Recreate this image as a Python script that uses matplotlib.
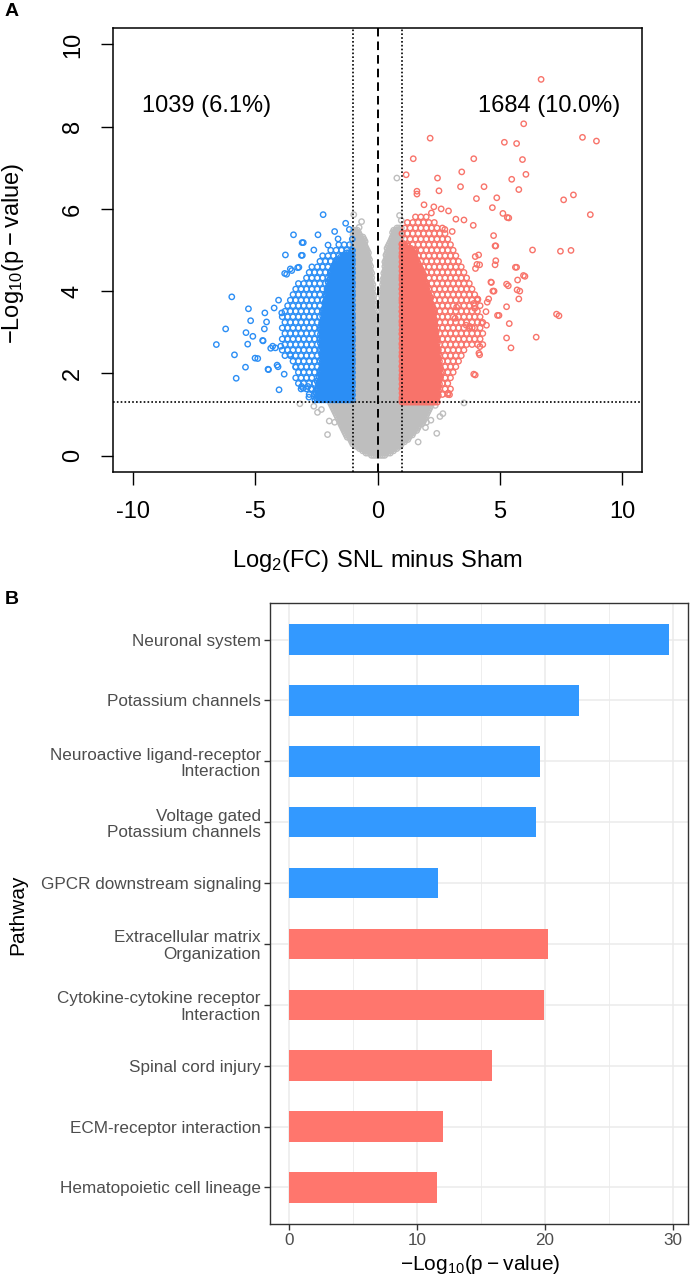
import numpy as np
import matplotlib
matplotlib.use("Agg")
import matplotlib.pyplot as plt
from matplotlib.path import Path

plt.rcParams["font.family"] = ["Liberation Sans", "DejaVu Sans"]
plt.rcParams["axes.unicode_minus"] = False

# ---------------- panel A data ----------------
# dense clouds are given as outlines; circles are packed inside them
grey_low = [(-2.0, 1.3), (-1.85, 1.1), (-1.6, 0.8), (-1.4, 0.55), (-1.05, 0.3), (-0.7, 0.12),
            (-0.3, 0.0), (0.0, -0.05), (0.35, 0.0), (0.8, 0.15), (1.0, 0.25), (1.35, 0.45),
            (1.7, 0.65), (1.95, 0.9), (2.1, 1.1), (2.25, 1.3)]
grey_left = [(-1.0, 1.3), (-0.03, 1.3), (-0.06, 3.0), (-0.15, 4.0), (-0.3, 4.8), (-0.55, 5.3),
             (-0.85, 5.5), (-1.0, 5.5)]
grey_right = [(0.03, 1.3), (1.0, 1.3), (1.0, 5.6), (0.65, 5.5), (0.35, 5.0), (0.15, 4.0),
              (0.08, 3.0)]
blue_core = [(-1.0, 1.3), (-2.6, 1.3), (-2.45, 1.7), (-2.3, 2.3), (-2.35, 3.0), (-2.2, 3.6),
             (-2.05, 4.2), (-1.8, 4.7), (-1.4, 4.9), (-1.0, 5.0)]
blue_halo = [(-1.0, 1.35), (-2.5, 1.35), (-2.9, 1.45), (-3.3, 1.75), (-3.45, 2.1), (-3.9, 2.5),
             (-4.0, 2.9), (-3.9, 3.4), (-3.6, 3.8), (-3.4, 4.1), (-3.1, 4.3), (-2.7, 4.6),
             (-2.3, 4.9), (-1.9, 5.1), (-1.3, 5.25), (-1.0, 5.3)]
red_core = [(1.0, 1.3), (2.45, 1.3), (2.6, 2.0), (2.45, 2.8), (2.3, 3.6), (1.9, 4.4),
            (1.5, 5.0), (1.0, 5.2)]
red_halo = [(1.0, 1.35), (2.4, 1.35), (2.9, 1.45), (3.1, 1.8), (3.5, 2.4), (3.7, 2.6),
            (4.3, 2.7), (4.4, 3.0), (4.3, 3.5), (4.0, 3.9), (3.6, 4.4), (3.4, 4.9), (3.0, 5.2),
            (2.6, 5.6), (2.0, 5.9), (1.5, 5.8), (1.0, 5.6)]

grey_x = [-2.04, -1.97, -1.75, -2.29, -3.17, -2.6, 3.53, 2.42, 1.66, 2.67, 2.36, 2.18, 2.0, 1.96,
          0.79, -0.65, -0.97, 0.9, 0.97, -0.75, 0.6, -2.45, 2.55]
grey_y = [0.51, 0.84, 0.81, 1.12, 1.26, 1.2, 1.28, 0.54, 0.33, 1.02, 1.22, 0.86, 0.81, 0.68,
          6.75, 5.69, 5.86, 5.84, 5.72, 5.55, 5.3, 1.05, 0.95]

blue_x = [-5.95, -6.58, -6.2, -5.84, -5.77, -5.27, -5.18, -5.37, -5.3, -5.39, -5.0, -4.89, -5.09,
          -4.6, -4.53, -4.62, -4.67, -4.45, -4.36, -4.17, -4.02, -4.06, -3.81, -3.43, -3.03,
          -3.07, -2.43, -2.22, -1.75, -1.61, -3.21, -3.71, -3.5, -3.91, -4.04, -4.22, -3.03,
          -2.72, -2.47, -2.8, -3.57, -3.34, -4.69, -4.47, -4.1, -3.95, -4.28, -3.79, -3.56,
          -3.26, -3.76, -3.11, -3.08, -2.02, -3.1, -2.84, -1.3, -1.15, -2.6]
blue_y = [3.86, 2.7, 3.08, 2.45, 1.88, 3.57, 3.28, 2.99, 2.71, 2.15, 2.37, 2.36, 2.9, 3.47, 3.25,
          3.08, 2.79, 2.09, 2.61, 2.62, 1.6, 2.16, 1.98, 5.37, 5.18, 4.87, 5.37, 5.86, 5.45, 5.27,
          4.58, 4.41, 4.5, 3.47, 3.78, 3.59, 1.64, 1.62, 1.81, 1.42, 2.46, 2.15, 2.8, 2.1, 2.2,
          2.66, 2.66, 4.43, 4.54, 4.57, 4.88, 4.87, 5.18, 5.12, 1.68, 1.68, 5.65, 5.5, 5.0]

red_x = [6.68, 5.97, 8.37, 8.94, 2.15, 5.18, 5.68, 1.46, 3.93, 5.92, 6.06, 3.44, 1.17, 2.45, 5.48,
         5.77, 1.61, 1.61, 2.51, 3.39, 4.35, 8.0, 7.6, 4.04, 4.87, 4.69, 5.12, 5.3, 5.36, 8.69,
         3.53, 3.91, 4.74, 4.83, 6.33, 7.47, 7.9, 3.99, 4.13, 4.83, 4.17, 5.68, 6.02, 5.72, 4.65,
         5.27, 5.34, 5.81, 4.76, 5.77, 4.54, 4.08, 7.31, 7.41, 5.27, 4.96, 5.38, 5.27, 6.48, 5.45,
         3.99, 2.94, 4.17, 3.77, 3.23, 3.17, 3.62, 4.45, 5.7, 5.96, 5.63, 4.8, 4.8, 4.63, 4.71,
         4.9, 4.06, 4.0, 4.48, 4.43, 3.93, 3.97, 4.1, 4.26, 3.87, 3.93, 4.14, 4.18, 2.89, 2.3,
         2.6, 2.9, 3.2, 1.9, 2.2, 2.75, 3.05]
red_y = [9.15, 8.07, 7.74, 7.65, 7.72, 7.62, 7.59, 7.22, 7.22, 7.2, 6.84, 6.9, 6.83, 6.75, 6.72,
         6.47, 6.43, 6.36, 6.44, 6.54, 6.54, 6.34, 6.22, 6.25, 6.27, 6.03, 5.89, 5.79, 5.78, 5.86,
         5.73, 5.6, 5.35, 5.1, 5.0, 4.97, 4.99, 4.84, 4.88, 4.74, 4.64, 4.58, 4.36, 4.27, 4.21,
         4.17, 4.13, 4.0, 4.0, 3.81, 3.81, 3.81, 3.44, 3.4, 3.62, 3.41, 3.21, 2.86, 2.88, 2.62,
         1.96, 1.48, 2.45, 3.14, 3.61, 3.34, 3.17, 3.17, 4.03, 4.38, 4.58, 5.1, 4.64, 4.22, 4.0,
         3.41, 4.65, 4.55, 3.73, 3.5, 3.7, 3.58, 3.8, 3.22, 3.11, 1.98, 2.49, 2.65, 1.52, 6.05,
         6.0, 5.95, 5.75, 6.1, 5.9, 5.5, 5.45]

n_down, pct_down = 1039, 6.1
n_up, pct_up = 1684, 10.0

# ---------------- panel B data ----------------
pathways = ["Neuronal system", "Potassium channels", "Neuroactive ligand-receptor\nInteraction",
            "Voltage gated\nPotassium channels", "GPCR downstream signaling",
            "Extracellular matrix\nOrganization", "Cytokine-cytokine receptor\nInteraction",
            "Spinal cord injury", "ECM-receptor interaction", "Hematopoietic cell lineage"]
neg_log_p = [29.7, 22.7, 19.6, 19.3, 11.65, 20.25, 19.9, 15.9, 12.05, 11.55]
direction = ["down"] * 5 + ["up"] * 5

BLUE_PT, RED_PT, GREY_PT = "#2b8ef5", "#f8736a", "#bebebe"
BLUE_BAR, RED_BAR = "#3399ff", "#ff766d"


def pack(outline, dx, dy):
    # circles on a staggered grid inside an outline
    verts = np.array(outline)
    path = Path(verts)
    x0, y0 = verts.min(axis=0)
    x1, y1 = verts.max(axis=0)
    pts = []
    for i, y in enumerate(np.arange(y0, y1 + dy, dy)):
        off = dx / 2 if i % 2 else 0.0
        for x in np.arange(x0 + off, x1 + dx, dx):
            pts.append((x, y))
    pts = np.array(pts)
    return pts[path.contains_points(pts, radius=1e-9)]


fig = plt.figure(figsize=(6.9, 12.8), dpi=100)

# ---------------- panel A: volcano ----------------
ax = fig.add_axes([113 / 690, 1 - 472 / 1280, 529 / 690, 444 / 1280])
ring = dict(s=15, facecolors="none", linewidths=1.0)

for poly in (grey_low, grey_left, grey_right):
    p = pack(poly, 0.09, 0.055)
    ax.scatter(p[:, 0], p[:, 1], edgecolors=GREY_PT, **ring)
ax.scatter(grey_x, grey_y, edgecolors=GREY_PT, **ring)

for halo, core, xs, ys, col in ((blue_halo, blue_core, blue_x, blue_y, BLUE_PT),
                                (red_halo, red_core, red_x, red_y, RED_PT)):
    p = pack(halo, 0.22, 0.135)
    ax.scatter(p[:, 0], p[:, 1], edgecolors=col, **ring)
    p = pack(core, 0.09, 0.055)
    ax.scatter(p[:, 0], p[:, 1], edgecolors=col, **ring)
    ax.scatter(xs, ys, edgecolors=col, **ring)

ax.axhline(-np.log10(0.05), color="black", lw=1.2, ls=(0, (1, 1.3)))
for v in (-1, 1):
    ax.axvline(v, color="black", lw=1.2, ls=(0, (1, 1.3)))
ax.axvline(0, color="black", lw=1.4, ls=(0, (4.4, 2.6)))

ax.text(-7.0, 8.5, "{} ({:.1f}%)".format(n_down, pct_down), ha="center", va="center", fontsize=17)
ax.text(7.0, 8.5, "{} ({:.1f}%)".format(n_up, pct_up), ha="center", va="center", fontsize=17)

ax.set_xlim(-10.8, 10.8)
ax.set_ylim(-0.4, 10.4)
ax.set_xticks([-10, -5, 0, 5, 10])
ax.set_yticks([0, 2, 4, 6, 8, 10])
ax.tick_params(direction="out", length=9, width=1.0, labelsize=17, pad=12)
for lab in ax.get_yticklabels():
    lab.set_rotation(90)
    lab.set_va("center")
for s in ax.spines.values():
    s.set_linewidth(1.1)
ax.set_xlabel(r"$\mathregular{Log_2(FC)\ SNL\ minus\ Sham}$", fontsize=17)
ax.xaxis.set_label_coords(0.5, -0.2)
ax.xaxis.label.set_va("center")
ax.set_ylabel(r"$\mathregular{-Log_{10}(p - value)}$", fontsize=17)
ax.yaxis.set_label_coords(-0.189, 0.493)
ax.yaxis.label.set_va("center")

fig.text(5 / 690, 1 - 12 / 1280, "A", fontsize=14, fontweight="bold", va="center", ha="left")

# ---------------- panel B: pathway bars ----------------
bx = fig.add_axes([270 / 690, 1 - 1224 / 1280, 418 / 690, 621 / 1280])
pos = np.arange(len(pathways))
cols = [BLUE_BAR if d == "down" else RED_BAR for d in direction]
bx.set_axisbelow(True)
bx.barh(pos, neg_log_p, height=0.5, color=cols)
bx.set_ylim(len(pathways) - 0.4, -0.6)
bx.set_xlim(-1.49, 31.2)
bx.set_xticks([0, 10, 20, 30])
bx.set_xticks([5, 15, 25], minor=True)
bx.set_yticks(pos)
bx.set_yticklabels(pathways, linespacing=1.1)
bx.grid(True, which="major", color="#ebebeb", lw=1.1)
bx.grid(True, which="minor", axis="x", color="#ebebeb", lw=0.6)
bx.tick_params(which="major", length=4.5, width=1.0, color="#333333", labelcolor="#4d4d4d",
               labelsize=12.3, pad=2)
bx.tick_params(which="minor", length=0)
for s in bx.spines.values():
    s.set_color("#333333")
    s.set_linewidth(1.0)
bx.set_xlabel(r"$\mathregular{-Log_{10}(p - value)}$", fontsize=15)
bx.xaxis.set_label_coords(0.502, -0.066)
bx.xaxis.label.set_va("center")
bx.set_ylabel("Pathway", fontsize=15)
bx.yaxis.set_label_coords(-0.603, 0.4976)
bx.yaxis.label.set_va("center")

fig.text(5 / 690, 1 - 600 / 1280, "B", fontsize=14, fontweight="bold", va="center", ha="left")

fig.savefig("out.png", dpi=100)
